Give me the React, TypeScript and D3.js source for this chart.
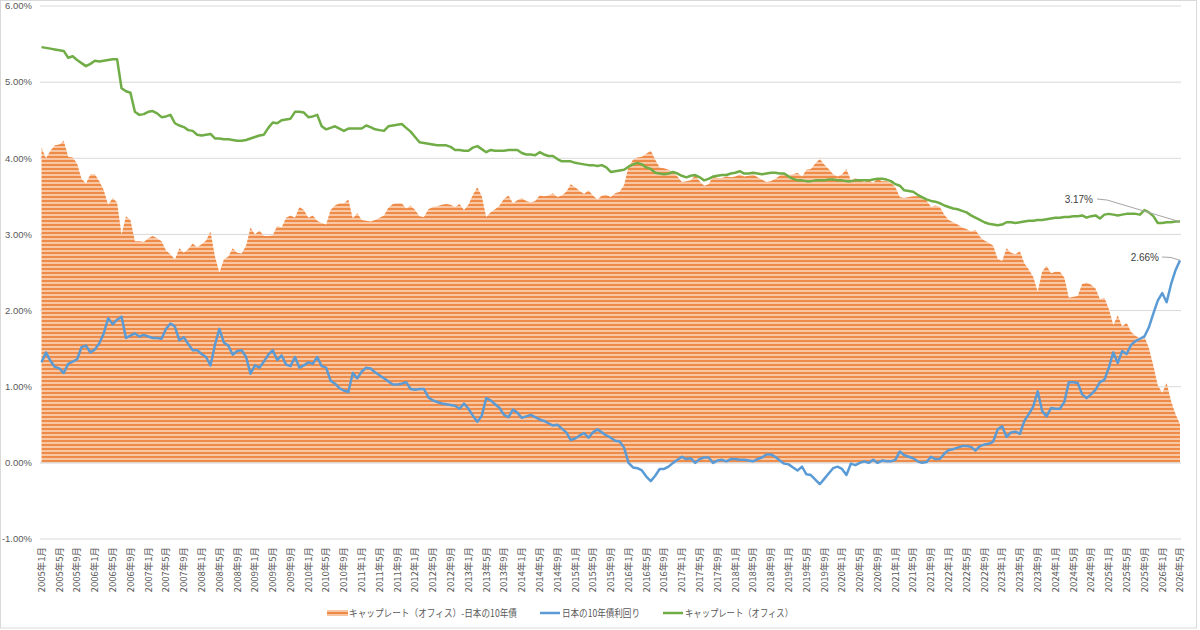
import React from 'react';
import * as d3 from 'd3';

// monthly series, 2005年1月 .. 2026年5月 (%)
const capRate = [
  5.46, 5.45, 5.44, 5.43, 5.42, 5.41, 5.32, 5.34, 5.29, 5.25, 5.21, 5.24, // 2005
  5.28, 5.27, 5.28, 5.29, 5.30, 5.30, 4.92, 4.88, 4.86, 4.61, 4.57, 4.58, // 2006
  4.61, 4.62, 4.59, 4.54, 4.55, 4.57, 4.46, 4.43, 4.41, 4.37, 4.36, 4.31, // 2007
  4.30, 4.31, 4.32, 4.26, 4.26, 4.25, 4.25, 4.24, 4.23, 4.23, 4.24, 4.26, // 2008
  4.28, 4.30, 4.31, 4.40, 4.47, 4.46, 4.50, 4.51, 4.52, 4.61, 4.61, 4.60, // 2009
  4.54, 4.55, 4.57, 4.42, 4.38, 4.40, 4.42, 4.39, 4.36, 4.39, 4.39, 4.39, // 2010
  4.39, 4.43, 4.41, 4.38, 4.37, 4.36, 4.42, 4.43, 4.44, 4.45, 4.40, 4.35, // 2011
  4.28, 4.21, 4.20, 4.19, 4.18, 4.17, 4.17, 4.17, 4.15, 4.11, 4.11, 4.10, // 2012
  4.10, 4.14, 4.16, 4.12, 4.08, 4.11, 4.10, 4.10, 4.10, 4.11, 4.11, 4.11, // 2013
  4.07, 4.05, 4.05, 4.04, 4.08, 4.05, 4.03, 4.03, 3.99, 3.96, 3.96, 3.96, // 2014
  3.94, 3.93, 3.92, 3.91, 3.91, 3.90, 3.91, 3.88, 3.82, 3.83, 3.84, 3.85, // 2015
  3.89, 3.92, 3.94, 3.92, 3.88, 3.86, 3.81, 3.80, 3.79, 3.80, 3.82, 3.80, // 2016
  3.77, 3.75, 3.77, 3.78, 3.75, 3.71, 3.73, 3.76, 3.77, 3.78, 3.78, 3.80, // 2017
  3.81, 3.83, 3.80, 3.80, 3.81, 3.80, 3.79, 3.80, 3.81, 3.81, 3.80, 3.80, // 2018
  3.76, 3.73, 3.71, 3.71, 3.70, 3.70, 3.71, 3.71, 3.71, 3.72, 3.72, 3.71, // 2019
  3.71, 3.70, 3.70, 3.71, 3.71, 3.71, 3.71, 3.72, 3.73, 3.73, 3.72, 3.70, // 2020
  3.66, 3.64, 3.58, 3.57, 3.56, 3.52, 3.49, 3.46, 3.44, 3.43, 3.41, 3.38, // 2021
  3.36, 3.34, 3.33, 3.31, 3.29, 3.25, 3.22, 3.19, 3.16, 3.14, 3.13, 3.12, // 2022
  3.13, 3.16, 3.16, 3.15, 3.16, 3.17, 3.18, 3.18, 3.19, 3.19, 3.20, 3.21, // 2023
  3.22, 3.22, 3.23, 3.23, 3.24, 3.24, 3.25, 3.22, 3.24, 3.25, 3.21, 3.26, // 2024
  3.27, 3.26, 3.25, 3.26, 3.27, 3.27, 3.27, 3.26, 3.32, 3.29, 3.24, 3.15, // 2025
  3.15, 3.16, 3.16, 3.17, 3.17, // 2026
];

const jgb10y = [
  1.32, 1.45, 1.34, 1.26, 1.24, 1.18, 1.30, 1.33, 1.36, 1.52, 1.54, 1.45, // 2005
  1.49, 1.57, 1.70, 1.90, 1.82, 1.88, 1.92, 1.64, 1.67, 1.70, 1.66, 1.68, // 2006
  1.66, 1.64, 1.64, 1.63, 1.76, 1.83, 1.79, 1.61, 1.65, 1.56, 1.48, 1.48, // 2007
  1.43, 1.39, 1.28, 1.55, 1.76, 1.58, 1.54, 1.42, 1.47, 1.48, 1.39, 1.17, // 2008
  1.28, 1.25, 1.33, 1.42, 1.48, 1.35, 1.41, 1.29, 1.27, 1.39, 1.25, 1.28, // 2009
  1.32, 1.30, 1.39, 1.27, 1.25, 1.08, 1.04, 0.98, 0.95, 0.93, 1.18, 1.11, // 2010
  1.20, 1.25, 1.24, 1.19, 1.15, 1.11, 1.07, 1.03, 1.03, 1.04, 1.06, 0.97, // 2011
  0.96, 0.97, 0.97, 0.86, 0.82, 0.80, 0.78, 0.77, 0.76, 0.75, 0.71, 0.78, // 2012
  0.71, 0.62, 0.54, 0.62, 0.85, 0.82, 0.77, 0.72, 0.63, 0.60, 0.70, 0.66, // 2013
  0.59, 0.61, 0.63, 0.60, 0.57, 0.55, 0.52, 0.49, 0.50, 0.45, 0.40, 0.30, // 2014
  0.32, 0.36, 0.39, 0.33, 0.40, 0.44, 0.40, 0.36, 0.33, 0.29, 0.28, 0.20, // 2015
  0.00, -0.06, -0.07, -0.10, -0.18, -0.24, -0.17, -0.08, -0.08, -0.05, 0.00, 0.04, // 2016
  0.08, 0.05, 0.06, 0.00, 0.05, 0.07, 0.07, 0.00, 0.03, 0.04, 0.02, 0.05, // 2017
  0.05, 0.04, 0.04, 0.03, 0.02, 0.05, 0.07, 0.11, 0.11, 0.08, 0.03, -0.01, // 2018
  -0.02, -0.06, -0.10, -0.05, -0.15, -0.16, -0.22, -0.28, -0.21, -0.14, -0.07, -0.05, // 2019
  -0.08, -0.16, -0.01, -0.03, 0.00, 0.02, 0.00, 0.04, 0.00, 0.03, 0.02, 0.02, // 2020
  0.04, 0.15, 0.10, 0.08, 0.06, 0.02, 0.00, 0.01, 0.08, 0.05, 0.05, 0.12, // 2021
  0.17, 0.18, 0.20, 0.22, 0.22, 0.21, 0.16, 0.22, 0.24, 0.25, 0.28, 0.44, // 2022
  0.48, 0.34, 0.40, 0.41, 0.38, 0.55, 0.64, 0.74, 0.94, 0.68, 0.61, 0.72, // 2023
  0.71, 0.71, 0.80, 1.06, 1.06, 1.05, 0.90, 0.85, 0.90, 0.96, 1.06, 1.09, // 2024
  1.25, 1.45, 1.31, 1.47, 1.43, 1.55, 1.60, 1.63, 1.66, 1.78, 1.96, 2.13, // 2025
  2.23, 2.11, 2.35, 2.53, 2.66, // 2026
];

const START_YEAR = 2005;
const months = capRate.map((_, i) => `${START_YEAR + Math.floor(i / 12)}年${(i % 12) + 1}月`);
const tickMonths = months.filter((_, i) => i % 4 === 0);
const yTicks = [-1, 0, 1, 2, 3, 4, 5, 6];

const legendItems = [
  { label: 'キャップレート（オフィス）-日本の10年債', kind: 'area', color: '#ED7D31', x: 327, w: 168 },
  { label: '日本の10年債利回り', kind: 'line', color: '#5B9BD5', x: 540, w: 78 },
  { label: 'キャップレート（オフィス）', kind: 'line', color: '#70AD47', x: 663, w: 108 },
];

const W = 1200;
const H = 630;
const jp = "'Noto Sans CJK JP', sans-serif";
const num = "'Liberation Sans', Arial, sans-serif";

export default function App() {
  const spread = capRate.map((c, i) => +(c - jgb10y[i]).toFixed(2));

  const x = d3.scalePoint<string>().domain(months).range([41.5, 1180]);
  const y = d3.scaleLinear().domain([-1, 6]).range([539, 6]);

  const area = d3.area<number>()
    .x((_, i) => x(months[i])!)
    .y0(y(0))
    .y1(d => y(d));
  const line = d3.line<number>()
    .x((_, i) => x(months[i])!)
    .y(d => y(d));

  const last = months.length - 1;
  const capEnd: [number, number] = [x(months[last])!, y(capRate[last])];
  const jgbEnd: [number, number] = [x(months[last])!, y(jgb10y[last])];

  return (
    <svg width={W} height={H} style={{ position: 'absolute', left: 0, top: 0, background: '#fff' }}>
      <defs>
        <pattern id="stripes" width="8" height="4" patternUnits="userSpaceOnUse">
          <rect width="8" height="4" fill="#EF8B48" />
          <rect y="2" width="8" height="2" fill="#F8C6A2" />
        </pattern>
      </defs>
      <rect x={0.5} y={0.5} width={1196} height={627.5} fill="#fff" stroke="#D9D9D9" />

      {/* grid + y labels */}
      {yTicks.map(t => (
        <g key={t}>
          <line x1={40} x2={1181} y1={y(t)} y2={y(t)} stroke="#D9D9D9" strokeWidth={1} />
          <text x={32} y={y(t)} dy="0.35em" textAnchor="end" fontSize={9.5} fontFamily={num} fill="#595959">
            {`${t.toFixed(2)}%`}
          </text>
        </g>
      ))}

      <path d={area(spread)!} fill="url(#stripes)" />
      <line x1={40} x2={1181} y1={y(0)} y2={y(0)} stroke="#D9D9D9" strokeWidth={1} />
      <path d={line(jgb10y)!} fill="none" stroke="#5B9BD5" strokeWidth={2.5} strokeLinejoin="round" />
      <path d={line(capRate)!} fill="none" stroke="#70AD47" strokeWidth={2.5} strokeLinejoin="round" />

      {/* x labels */}
      {tickMonths.map(m => (
        <text key={m} transform={`translate(${x(m)},547) rotate(-90)`} textAnchor="end" dy="0.35em"
          fontSize={9.5} fontFamily={jp} fill="#595959">{m}</text>
      ))}

      {/* end annotations */}
      <polyline points={`${capEnd[0] - 83},199 ${capEnd[0] - 73},200 ${capEnd[0] - 1},${capEnd[1]}`}
        fill="none" stroke="#A6A6A6" strokeWidth={1} />
      <text x={capEnd[0] - 87} y={199} dy="0.35em" textAnchor="end" fontSize={10} fontFamily={num} fill="#404040">
        {`${capRate[last].toFixed(2)}%`}
      </text>
      <polyline points={`${jgbEnd[0] - 18},257 ${jgbEnd[0] - 9},257.5 ${jgbEnd[0]},${jgbEnd[1]}`}
        fill="none" stroke="#A6A6A6" strokeWidth={1} />
      <text x={jgbEnd[0] - 21} y={257} dy="0.35em" textAnchor="end" fontSize={10} fontFamily={num} fill="#404040">
        {`${jgb10y[last].toFixed(2)}%`}
      </text>

      {/* legend */}
      {legendItems.map(it => (
        <g key={it.label}>
          {it.kind === 'area'
            ? <rect x={it.x} y={610} width={21} height={6} fill="url(#stripes)" />
            : <line x1={it.x} x2={it.x + 20} y1={613} y2={613} stroke={it.color} strokeWidth={2.5} />}
          <text x={it.x + 22} y={613} dy="0.35em" fontSize={10} fontFamily={jp} fill="#595959"
            textLength={it.w} lengthAdjust="spacingAndGlyphs">{it.label}</text>
        </g>
      ))}
    </svg>
  );
}
